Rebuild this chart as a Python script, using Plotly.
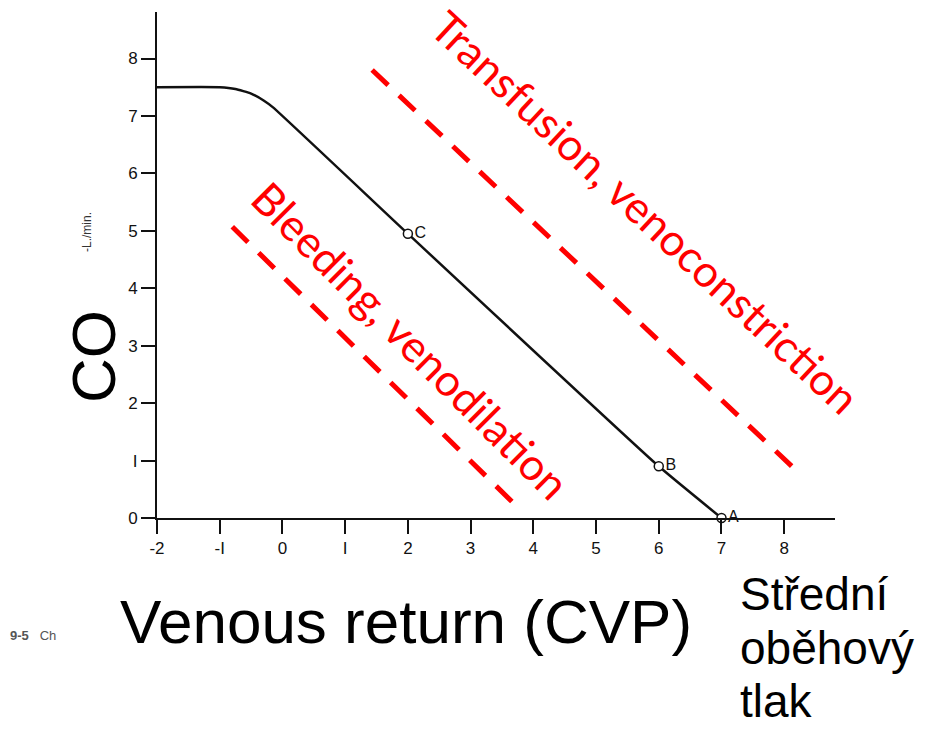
import plotly.graph_objects as go

# ---- data ----
curve_x = [-2.0, -1.0, -0.75, -0.5, -0.3, -0.15, 2.0, 6.0, 7.0]
curve_y = [7.5, 7.5, 7.47, 7.39, 7.27, 7.15, 4.95, 0.9, 0.0]

point_x = [2.0, 6.0, 7.0]
point_y = [4.95, 0.9, 0.0]
point_labels = ["C", "B", "A"]

transfusion_x = [1.43, 8.18]
transfusion_y = [7.80, 0.84]
bleeding_x = [-0.80, 3.71]
bleeding_y = [5.07, 0.23]

x_ticks = [-2, -1, 0, 1, 2, 3, 4, 5, 6, 7, 8]
x_ticktext = ["-2", "-I", "0", "I", "2", "3", "4", "5", "6", "7", "8"]
y_ticks = [0, 1, 2, 3, 4, 5, 6, 7, 8]
y_ticktext = ["0", "I", "2", "3", "4", "5", "6", "7", "8"]

# ---- layout geometry ----
W, H = 933, 731
L, R, T, B = 157, 98, 12, 213
PW = W - L - R
PH = H - T - B


def px(x):
    return (x - L) / PW


def py(y):
    return (H - B - y) / PH


RED = "#FF0000"
fig = go.Figure()

fig.add_trace(go.Scatter(x=transfusion_x, y=transfusion_y, mode="lines",
                         line=dict(color=RED, width=5, dash="22px,15px"),
                         hoverinfo="skip", showlegend=False))
fig.add_trace(go.Scatter(x=bleeding_x, y=bleeding_y, mode="lines",
                         line=dict(color=RED, width=5, dash="22px,15px"),
                         hoverinfo="skip", showlegend=False))
fig.add_trace(go.Scatter(x=curve_x, y=curve_y, mode="lines",
                         line=dict(color="#111111", width=2.5, shape="spline", smoothing=0.4),
                         showlegend=False))
fig.add_trace(go.Scatter(x=point_x, y=point_y, mode="markers+text",
                         text=point_labels,
                         textposition=["middle right", "middle right", "middle right"],
                         textfont=dict(family="Liberation Sans, Arial", size=16, color="#111"),
                         marker=dict(size=9, color="white", line=dict(color="#111", width=1.5)),
                         cliponaxis=False, showlegend=False))

tickfont = dict(family="Liberation Sans, Arial", size=17, color="#111")
fig.update_xaxes(range=[-2, 8.81], showline=True, linecolor="#111", linewidth=2,
                 ticks="outside", ticklen=14, tickwidth=1.5, tickcolor="#111",
                 tickvals=x_ticks, ticktext=x_ticktext, tickfont=tickfont,
                 showgrid=False, zeroline=False)
fig.update_yaxes(range=[0, 8.81], showline=True, linecolor="#111", linewidth=2,
                 ticks="outside", ticklen=14, tickwidth=1.5, tickcolor="#111",
                 tickvals=y_ticks, ticktext=y_ticktext, tickfont=tickfont,
                 showgrid=False, zeroline=False)

ann = []
ann.append(dict(text="Transfusion, venoconstriction", x=px(646), y=py(212),
                textangle=43, font=dict(family="Lato", size=44, color=RED)))
ann.append(dict(text="Bleeding, venodilation", x=px(411), y=py(340),
                textangle=45, font=dict(family="Lato", size=44, color=RED)))
ann.append(dict(text="Venous return (CVP)", x=px(406), y=py(621),
                font=dict(family="Liberation Sans, Arial", size=62, color="black")))
ann.append(dict(text="CO", x=px(93), y=py(357), textangle=-90,
                font=dict(family="Liberation Sans, Arial", size=62, color="black")))
for txt, yy in [("Střední", 594), ("oběhový", 648), ("tlak", 701)]:
    ann.append(dict(text=txt, x=px(738), y=py(yy), xanchor="left",
                    font=dict(family="Liberation Sans, Arial", size=46, color="black")))
ann.append(dict(text="-L./min.", x=px(87), y=py(232), textangle=-90,
                font=dict(family="Liberation Sans, Arial", size=12, color="#333")))
ann.append(dict(text="<b>9-5</b>   Ch", x=px(8), y=py(635), xanchor="left",
                font=dict(family="Liberation Sans, Arial", size=13, color="#555")))
for a in ann:
    a.update(xref="paper", yref="paper", showarrow=False)
    a.setdefault("xanchor", "center")
    a.setdefault("yanchor", "middle")

fig.update_layout(
    width=W, height=H,
    margin=dict(l=L, r=R, t=T, b=B),
    paper_bgcolor="white", plot_bgcolor="white",
    annotations=ann,
    shapes=[dict(type="rect", xref="paper", yref="paper",
                 x0=px(0), x1=px(105), y0=py(660), y1=py(638),
                 fillcolor="white", line=dict(width=0), layer="above")],
    showlegend=False,
)

fig.write_html("out.html",
               config={"displayModeBar": False},
               post_script="document.body.style.margin='0px';document.body.style.overflow='hidden';")
